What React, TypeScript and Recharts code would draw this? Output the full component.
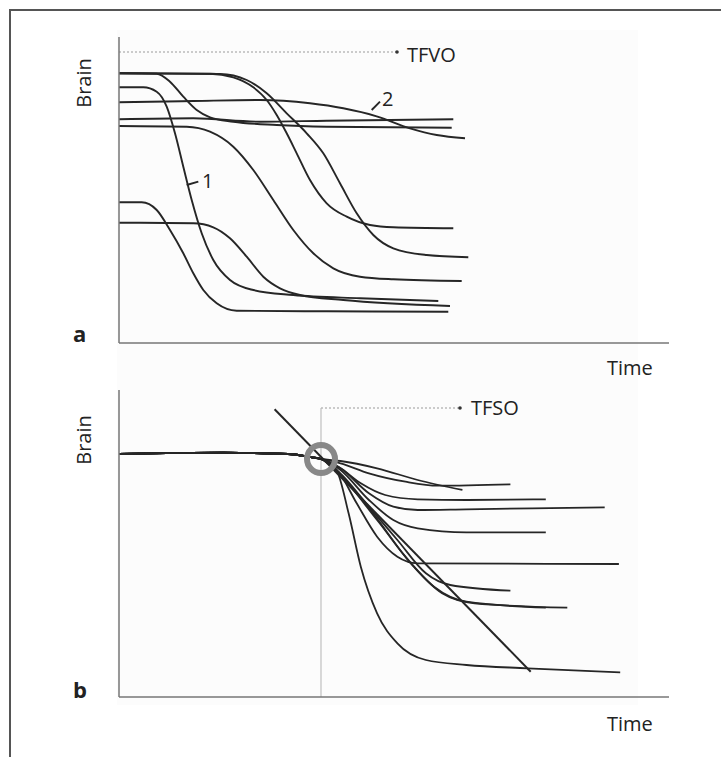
import React from "react";
import { LineChart, Line, XAxis, YAxis, ReferenceLine, ReferenceDot } from "recharts";

// values; time 0..550, brain 0..306 (panel a) / 0..307 (panel b)
type Pt = [number, number];

// panel a – individual trajectories
const A_TOP_EARLY: Pt[] = [[0, 269.7], [37.7, 269.3], [51, 261.3], [64.3, 246.3], [77.7, 233], [91, 225.7], [114.3, 221.3], [157.7, 218], [207.7, 216.3], [332.7, 215.3]];
const A_TOP_MID: Pt[] = [[0, 269.7], [91, 269.3], [114.3, 265.7], [134.3, 255.7], [147.7, 243], [157.7, 228], [167.7, 209.7], [177.7, 189.7], [191, 163], [207.7, 139.7], [227.7, 126.3], [251, 118], [274.3, 115.7], [334.3, 114.7]];
const A_TOP_LATE: Pt[] = [[0, 269.7], [101, 269], [127.7, 263], [147.7, 249.7], [167.7, 229.7], [187.7, 209.7], [204.3, 189.7], [221, 159.7], [237.7, 129.7], [254.3, 108], [274.3, 94.7], [307.7, 88], [349.3, 85.7]];
const A_FAST_1: Pt[] = [[0, 255.7], [24.3, 255.7], [37.7, 251.3], [47.7, 236.3], [56, 209.7], [64.3, 176.3], [72.7, 143], [82.7, 109.7], [94.3, 83], [111, 63], [134.3, 53], [174.3, 48], [241, 44.7], [319.3, 42]];
const A_SLOW_2: Pt[] = [[0, 240.7], [74.3, 242], [141, 243], [191, 239.7], [224.3, 234.7], [257.7, 226.7], [291, 214.7], [317.7, 208], [346, 204.7]];
const A_FLAT: Pt[] = [[0, 223.7], [74.3, 224.7], [141, 221.3], [207.7, 222.3], [334.3, 223.7]];
const A_MID: Pt[] = [[0, 217], [67.7, 216.3], [91, 211.3], [114.3, 196.3], [134.3, 173], [154.3, 143], [174.3, 113], [194.3, 89.7], [214.3, 74.7], [241, 66.3], [274.3, 63.7], [342.7, 62]];
const A_LOW_1: Pt[] = [[0, 140.7], [22.7, 140.7], [37.7, 133], [51, 113], [64.3, 89.7], [74.3, 69.7], [84.3, 53], [97.7, 39.7], [117.7, 32.3], [207.7, 31.7], [329.3, 31.3]];
const A_LOW_2: Pt[] = [[0, 120.3], [74.3, 119.7], [94.3, 115.7], [111, 104.7], [127.7, 86.3], [144.3, 66.3], [161, 54.7], [181, 48], [224.3, 43], [331, 37]];
const A_CURVES = [A_TOP_EARLY, A_TOP_MID, A_TOP_LATE, A_FAST_1, A_SLOW_2, A_FLAT, A_MID, A_LOW_1, A_LOW_2];

const TFVO_Y = 291;
const TFVO_END = 278;
const LABEL_1: Pt[] = [[67.7, 158], [79.3, 161.3]];
const LABEL_2: Pt[] = [[252.7, 233], [261, 241.3]];

// panel b – common baseline up to the onset, then the fan
const B_BASE: Pt[] = [[0, 243], [104, 244.3], [169, 243], [193, 239.7], [202, 238]];
const B_TAILS: Pt[][] = [
  [[221.5, 236], [258.1, 228.7], [298.7, 217], [343.4, 207]],
  [[221.5, 233.7], [249.9, 223.7], [286.5, 215.3], [319, 211.3], [391.4, 212.7]],
  [[219.5, 230.3], [241.8, 213.7], [266.2, 202], [298.7, 197.7], [347.5, 197], [426.8, 197.7]],
  [[221.5, 228.7], [249.9, 203.7], [274.3, 190.3], [298.7, 187], [347.5, 187.7], [485.7, 189.7]],
  [[221.5, 227], [249.9, 197], [274.3, 177], [298.7, 168.7], [347.5, 164.7], [426.8, 164.7]],
  [[219.5, 225.3], [237.7, 193.7], [258.1, 160.3], [278.4, 140.3], [298.7, 133.7], [499.9, 133]],
  [[219.5, 225.3], [249.9, 190.3], [278.4, 157], [306.9, 123.7], [331.2, 112], [391.4, 106.3]],
  [[219.5, 223.7], [254, 183.7], [286.5, 140.3], [315, 110.3], [347.5, 95.3], [426.8, 89.3]],
  [[219.5, 223.7], [258.1, 177], [294.7, 130.3], [323.1, 103.7], [355.6, 93.7], [448.3, 89.3]],
  [[217.4, 227], [229.6, 183.7], [241.8, 130.3], [258.1, 83.7], [278.4, 53.7], [306.9, 37], [347.5, 32], [408.5, 28.7], [501.2, 24.7]],
];
const TFSO_X = 202;
const TFSO_Y = 289;
const TFSO_END = 341;
const ONSET_Y = 238;
const TANGENT: Pt[] = [[155.6, 287.7], [411.7, 25.3]];

const INK = "#262626";
const AXIS = { stroke: "#777", strokeWidth: 1.5 };
const FONT = "'Open Sans', 'Noto Sans', sans-serif";

const toRows = (p: Pt[]) => p.map(([x, y]) => ({ x, y }));

function Txt({ x, y, size = 20, bold, children }: { x: number; y: number; size?: number; bold?: boolean; children: React.ReactNode }) {
  return (
    <div
      style={{
        position: "absolute",
        left: x,
        top: y,
        transform: "translateY(-50%)",
        fontFamily: FONT,
        fontSize: size,
        fontWeight: bold ? 700 : 400,
        lineHeight: 1,
        color: "#222",
        whiteSpace: "nowrap",
      }}
    >
      {children}
    </div>
  );
}

const rotated = (top: number): React.CSSProperties => ({
  position: "absolute",
  left: 84,
  top,
  transform: "translate(-50%, -50%) rotate(-90deg)",
  fontFamily: FONT,
  fontSize: 20,
  lineHeight: 1,
  color: "#222",
});

export default function App() {
  return (
    <div style={{ position: "fixed", left: 0, top: 0, width: 721, height: 757, background: "#fff", overflow: "hidden" }}>
      <div style={{ position: "absolute", left: 117, top: 30, width: 521, height: 675, background: "#fcfcfc" }} />
      <div style={{ position: "absolute", left: 9, top: 9, width: 712, height: 748, borderTop: "2px solid #555", borderLeft: "2px solid #555" }} />

      <div style={{ position: "absolute", left: 0, top: 0 }}>
        <LineChart width={721} height={400} margin={{ top: 37, right: 52, bottom: 56, left: 118 }}>
          <XAxis type="number" dataKey="x" domain={[0, 550]} height={1} tick={false} tickLine={false} axisLine={AXIS} allowDataOverflow />
          <YAxis type="number" dataKey="y" domain={[0, 306]} width={1} tick={false} tickLine={false} axisLine={AXIS} allowDataOverflow />
          <ReferenceLine segment={[{ x: 0, y: TFVO_Y }, { x: TFVO_END, y: TFVO_Y }]} stroke="#bbb" strokeWidth={1.5} strokeDasharray="2 2" />
          <ReferenceDot x={TFVO_END} y={TFVO_Y} r={1.8} fill="#333" stroke="none" />
          {A_CURVES.map((c, i) => (
            <Line key={i} data={toRows(c)} dataKey="y" type="monotone" dot={false} stroke={INK} strokeWidth={1.9} isAnimationActive={false} />
          ))}
          <ReferenceLine segment={toRows(LABEL_1)} stroke={INK} strokeWidth={1.9} />
          <ReferenceLine segment={toRows(LABEL_2)} stroke={INK} strokeWidth={1.9} />
        </LineChart>
      </div>

      <div style={{ position: "absolute", left: 0, top: 350 }}>
        <LineChart width={721} height={400} margin={{ top: 40, right: 52, bottom: 52, left: 118 }}>
          <XAxis type="number" dataKey="x" domain={[0, 550]} height={1} tick={false} tickLine={false} axisLine={AXIS} allowDataOverflow />
          <YAxis type="number" dataKey="y" domain={[0, 307]} width={1} tick={false} tickLine={false} axisLine={AXIS} allowDataOverflow />
          <ReferenceLine segment={[{ x: TFSO_X, y: 0 }, { x: TFSO_X, y: TFSO_Y }]} stroke="#c4c4c4" strokeWidth={1.3} />
          <ReferenceLine segment={[{ x: TFSO_X, y: TFSO_Y }, { x: TFSO_END, y: TFSO_Y }]} stroke="#bbb" strokeWidth={1.5} strokeDasharray="2 2" />
          <ReferenceDot x={TFSO_END} y={TFSO_Y} r={1.8} fill="#333" stroke="none" />
          {B_TAILS.map((t, i) => (
            <Line key={i} data={toRows([...B_BASE, ...t])} dataKey="y" type="monotone" dot={false} stroke={INK} strokeWidth={1.8} isAnimationActive={false} />
          ))}
          <ReferenceLine segment={toRows(TANGENT)} stroke={INK} strokeWidth={2} />
          <ReferenceDot x={TFSO_X} y={ONSET_Y} r={14} fill="none" stroke="#888" strokeWidth={6} />
        </LineChart>
      </div>

      <div style={rotated(83)}>Brain</div>
      <div style={rotated(440)}>Brain</div>
      <Txt x={407} y={55}>TFVO</Txt>
      <Txt x={471} y={408}>TFSO</Txt>
      <Txt x={202} y={181}>1</Txt>
      <Txt x={382} y={99}>2</Txt>
      <Txt x={73} y={333} size={22} bold>a</Txt>
      <Txt x={73} y={689} size={22} bold>b</Txt>
      <Txt x={607} y={368}>Time</Txt>
      <Txt x={607} y={724}>Time</Txt>
    </div>
  );
}
